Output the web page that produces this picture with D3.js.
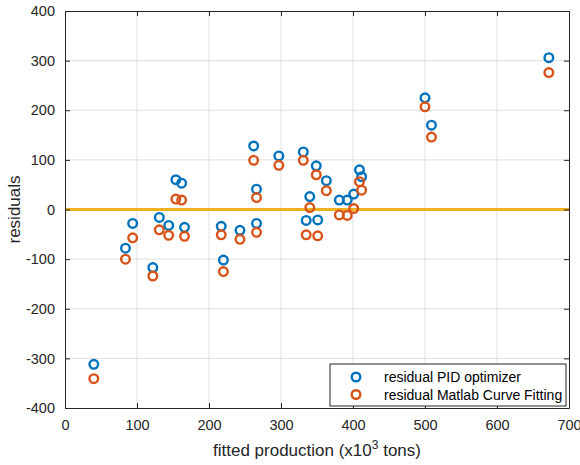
<!DOCTYPE html>
<html>
<head>
<meta charset="utf-8">
<script src="https://cdn.jsdelivr.net/npm/d3@7"></script>
<style>
  body { margin: 0; background: #fff; }
  svg { font-family: "Liberation Sans", Arial, sans-serif; }
</style>
</head>
<body>
<div id="chart"><svg width="580" height="465"></svg></div>
<script>
// fitted production (x10^3 tons)
const fitted = [40, 84, 94, 122, 131, 144, 154, 162, 166, 217, 220, 243, 262, 266, 266,
  297, 331, 335, 340, 349, 351, 363, 381, 392, 401, 409, 412, 500, 509, 672];
const residualPID = [-312, -78, -28, -117, -16, -32, 60, 53, -36, -34, -102, -42, 128, 41, -28,
  108, 116, -22, 26, 88, -21, 58, 19, 19, 31, 80, 66, 225, 170, 306];
const residualMatlab = [-341, -100, -57, -134, -41, -52, 21, 19, -54, -51, -125, -60, 99, 24, -46,
  89, 99, -51, 4, 70, -53, 38, -11, -12, 2, 56, 39, 207, 146, 276];
const xTicks = [0, 100, 200, 300, 400, 500, 600, 700];
const yTicks = [-400, -300, -200, -100, 0, 100, 200, 300, 400];
const seriesNames = ['residual PID optimizer', 'residual Matlab Curve Fitting'];
const seriesColors = ['#0072BD', '#D95319'];

const SVG = d3.select('#chart svg');
const LEFT = 65, RIGHT = 569, TOP = 11, BOTTOM = 408;
const AXIS_COLOR = '#262626';

const X_SCALE = d3.scaleLinear().domain([0, 700]).range([LEFT, RIGHT]);
const Y_SCALE = d3.scaleLinear().domain([-400, 400]).range([BOTTOM, TOP]);

// grid
const grid = SVG.append('g').attr('id', 'grid');
grid.selectAll('line.gx')
  .data(xTicks.slice(1, -1))
  .join('line')
  .attr('x1', d => X_SCALE(d)).attr('x2', d => X_SCALE(d))
  .attr('y1', TOP).attr('y2', BOTTOM)
  .style('stroke', '#dfdfdf').style('stroke-width', 1);
grid.selectAll('line.gy')
  .data(yTicks.slice(1, -1))
  .join('line')
  .attr('class', 'gy')
  .attr('x1', LEFT).attr('x2', RIGHT)
  .attr('y1', d => Y_SCALE(d)).attr('y2', d => Y_SCALE(d))
  .style('stroke', '#dfdfdf').style('stroke-width', 1);

// zero line
SVG.append('line')
  .attr('x1', X_SCALE(0)).attr('x2', X_SCALE(700))
  .attr('y1', Y_SCALE(0)).attr('y2', Y_SCALE(0))
  .style('stroke', '#EDB120').style('stroke-width', 3);

// axes (plain hyphen minus like matlab)
const fmt = d => String(d);
const X_AXIS = d3.axisBottom(X_SCALE).tickValues(xTicks).tickSizeInner(-5).tickSizeOuter(0)
  .tickPadding(12).tickFormat(fmt);
const X_AXIS_G = SVG.append('g').attr('id', 'xAxis').attr('transform', `translate(0,${BOTTOM})`);
X_AXIS(X_AXIS_G);
const X_TOP = d3.axisTop(X_SCALE).tickValues(xTicks).tickSizeInner(-5).tickSizeOuter(0).tickFormat('');
X_TOP(SVG.append('g').attr('transform', `translate(0,${TOP})`));

const Y_AXIS = d3.axisLeft(Y_SCALE).tickValues(yTicks).tickSizeInner(-5).tickSizeOuter(0)
  .tickPadding(10).tickFormat(fmt);
const Y_AXIS_G = SVG.append('g').attr('id', 'yAxis').attr('transform', `translate(${LEFT},0)`);
Y_AXIS(Y_AXIS_G);
const Y_RIGHT = d3.axisRight(Y_SCALE).tickValues(yTicks).tickSizeInner(-5).tickSizeOuter(0).tickFormat('');
Y_RIGHT(SVG.append('g').attr('transform', `translate(${RIGHT},0)`));

SVG.selectAll('.domain').style('stroke', AXIS_COLOR).style('stroke-width', 1);
SVG.selectAll('.tick line').style('stroke', AXIS_COLOR);
SVG.selectAll('.tick text').style('fill', AXIS_COLOR).style('font-size', '14.5px')
  .style('font-family', '"Liberation Sans", Arial, sans-serif');

// points
[residualPID, residualMatlab].forEach((vals, i) => {
  SVG.append('g')
    .selectAll('circle')
    .data(vals)
    .join('circle')
    .attr('cx', (d, j) => X_SCALE(fitted[j]))
    .attr('cy', d => Y_SCALE(d))
    .attr('r', 4.3)
    .style('fill', 'none')
    .style('stroke', seriesColors[i])
    .style('stroke-width', 2.4);
});

// labels
SVG.append('text')
  .attr('x', (LEFT + RIGHT) / 2).attr('y', 456)
  .attr('text-anchor', 'middle')
  .style('font-size', '17px').style('fill', AXIS_COLOR)
  .html('fitted production (x10<tspan dy="-7" font-size="12px">3</tspan><tspan dy="7"> tons)</tspan>');

SVG.append('text')
  .attr('transform', `translate(20,${(TOP + BOTTOM) / 2}) rotate(-90)`)
  .attr('text-anchor', 'middle')
  .style('font-size', '17px').style('fill', AXIS_COLOR)
  .text('residuals');

// legend
const legend = SVG.append('g').attr('id', 'legend');
legend.append('rect')
  .attr('x', 330).attr('y', 364).attr('width', 236).attr('height', 42)
  .style('fill', '#fff').style('stroke', AXIS_COLOR).style('stroke-width', 1);
seriesNames.forEach((name, i) => {
  legend.append('circle')
    .attr('cx', 356).attr('cy', 377 + i * 17.5).attr('r', 4.3)
    .style('fill', 'none').style('stroke', seriesColors[i]).style('stroke-width', 2.4);
  legend.append('text')
    .attr('x', 384).attr('y', 382 + i * 17.5)
    .style('font-size', '14px').style('fill', '#000')
    .text(name);
});
</script>
</body>
</html>
